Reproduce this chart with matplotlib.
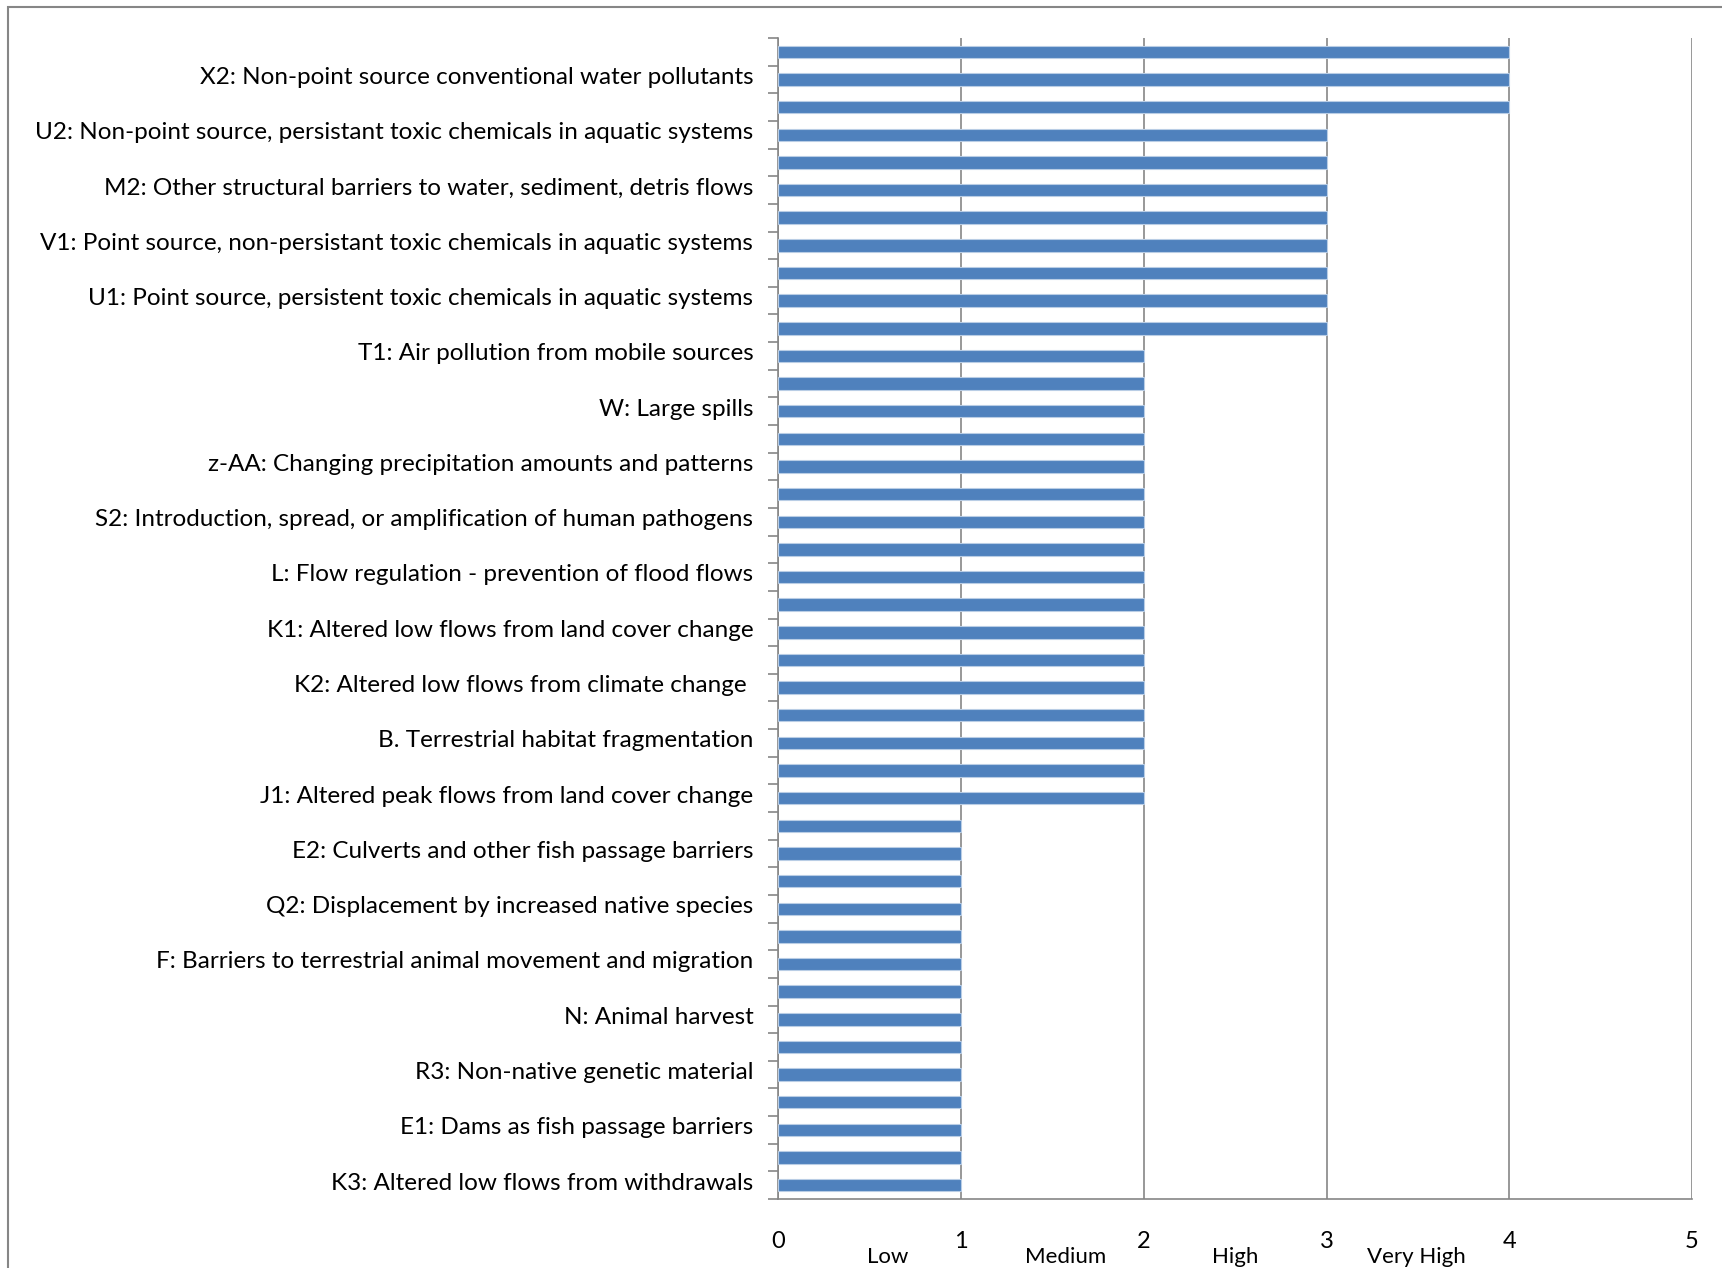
import matplotlib.pyplot as plt
import matplotlib.transforms as mtransforms
import numpy as np
from matplotlib.patches import Rectangle

# threat ratings, top bar first (4 = very high ... 1 = low)
values = [4] * 3 + [3] * 8 + [2] * 17 + [1] * 14

# only every second category is labelled on the axis (top to bottom)
labels = [
    "X2: Non-point source conventional water pollutants",
    "U2: Non-point source, persistant toxic chemicals in aquatic systems",
    "M2: Other structural barriers to water, sediment, detris flows",
    "V1: Point source, non-persistant toxic chemicals in aquatic systems",
    "U1: Point source, persistent toxic chemicals in aquatic systems",
    "T1: Air pollution from mobile sources",
    "W: Large spills",
    "z-AA: Changing precipitation amounts and patterns",
    "S2: Introduction, spread, or amplification of human pathogens",
    "L: Flow regulation - prevention of flood flows",
    "K1: Altered low flows from land cover change",
    "K2: Altered low flows from climate change ",
    "B. Terrestrial habitat fragmentation",
    "J1: Altered peak flows from land cover change",
    "E2: Culverts and other fish passage barriers",
    "Q2: Displacement by increased native species",
    "F: Barriers to terrestrial animal movement and migration",
    "N: Animal harvest",
    "R3: Non-native genetic material",
    "E1: Dams as fish passage barriers",
    "K3: Altered low flows from withdrawals",
]
x_ticks = [0, 1, 2, 3, 4, 5]
levels = ["Low", "Medium", "High", "Very High"]
level_pos = [0.6, 1.57, 2.5, 3.49]

plt.rcParams['font.family'] = ['Lato', 'DejaVu Sans']
grey = '#868686'

fig = plt.figure(figsize=(17.22, 12.68), dpi=100)
ax = fig.add_axes([0.452, 0.0544, 0.5306, 0.9156])

n = len(values)
y = np.arange(n)[::-1]  # top bar gets the highest y
ax.barh(y, values, height=0.45, color='#4F81BD', edgecolor='#B9CDE5', linewidth=0.8, zorder=3)

ax.set_xlim(0, 5)
ax.set_ylim(-0.5, n - 0.5)
ax.set_xticks(x_ticks)
ax.set_xticklabels([str(t) for t in x_ticks], fontsize=17)
ax.tick_params(axis='x', length=0, pad=23)
ax.grid(axis='x', color=grey, linewidth=1.2, zorder=1)

# labels sit on every second bar, counting from the bottom
ax.set_yticks(np.arange(0, n, 2)[:len(labels)])
ax.set_yticklabels(labels[::-1], fontsize=17.5)
ax.tick_params(axis='y', which='major', length=0, pad=18)
ax.set_yticks(np.arange(-0.5, n, 1), minor=True)
ax.tick_params(axis='y', which='minor', length=7, width=1.2, color=grey)
shift = mtransforms.ScaledTranslation(0, 3 / 72, fig.dpi_scale_trans)
for lab in ax.get_yticklabels():
    lab.set_transform(lab.get_transform() + shift)

for side in ['top', 'right']:
    ax.spines[side].set_visible(False)
for side in ['left', 'bottom']:
    ax.spines[side].set_color(grey)
    ax.spines[side].set_linewidth(1.2)

# level words below the numbers
for lv, xp in zip(levels, level_pos):
    ax.text(xp, -0.05, lv, transform=ax.get_xaxis_transform(), fontsize=16,
            ha='center', va='center')

# outer chart frame (cropped on the right and bottom)
fig.patches.append(Rectangle((7.7 / 1722, -0.1), 1.2, 1.1 - 6.6 / 1268,
                             transform=fig.transFigure, fill=False,
                             edgecolor=grey, linewidth=1.5))

fig.savefig('out.png', dpi=100)
